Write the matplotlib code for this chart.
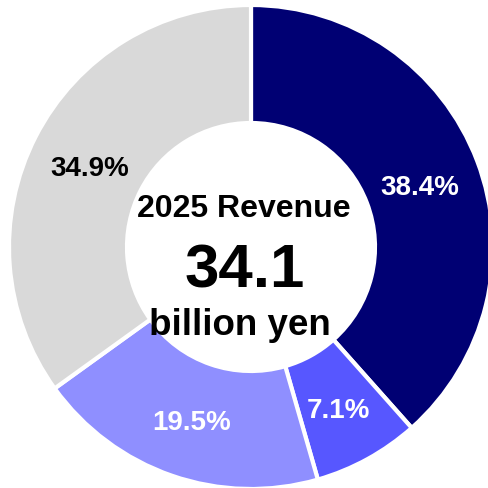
import numpy as np
import matplotlib
matplotlib.use("Agg")
import matplotlib.pyplot as plt

plt.rcParams['font.family'] = ['Liberation Sans', 'DejaVu Sans']

# Revenue share by segment (clockwise from 12 o'clock)
shares = [38.4, 7.1, 19.5, 34.9]
share_labels = ["38.4%", "7.1%", "19.5%", "34.9%"]
colors = ["#000073", "#5757ff", "#8f8fff", "#d9d9d9"]
label_colors = ["white", "white", "white", "black"]

title_line = "2025 Revenue"
total_value = "34.1"
unit_line = "billion yen"

W, H = 488, 489
fig = plt.figure(figsize=(W / 100, H / 100), dpi=100)
ax = fig.add_axes([0, 0, 1, 1])

cx, cy = 251, H - 248
outer_r = 242
ring_w = 118

wedges, _ = ax.pie(shares, colors=colors, startangle=90, counterclock=False,
                   radius=outer_r, center=(cx, cy), frame=True,
                   wedgeprops=dict(width=ring_w, edgecolor="white", linewidth=3))
ax.set_xlim(0, W)
ax.set_ylim(0, H)
ax.set_aspect('equal')
ax.axis('off')

label_r = outer_r - ring_w / 2 - 2
for w, txt, tc in zip(wedges, share_labels, label_colors):
    ang = np.deg2rad((w.theta1 + w.theta2) / 2)
    ax.text(cx + label_r * np.cos(ang), cy + label_r * np.sin(ang) - 4, txt,
            ha='center', va='center', fontsize=20, fontweight='bold', color=tc)

ax.text(cx - 7, H - 217, title_line, ha='center', va='baseline',
        fontsize=23, fontweight='bold', color='black')
ax.text(cx - 6, H - 288, total_value, ha='center', va='baseline',
        fontsize=44.5, fontweight='bold', color='black')
ax.text(cx - 11, H - 335, unit_line, ha='center', va='baseline',
        fontsize=26.5, fontweight='bold', color='black')

fig.savefig("out.png", dpi=100, facecolor='white')
